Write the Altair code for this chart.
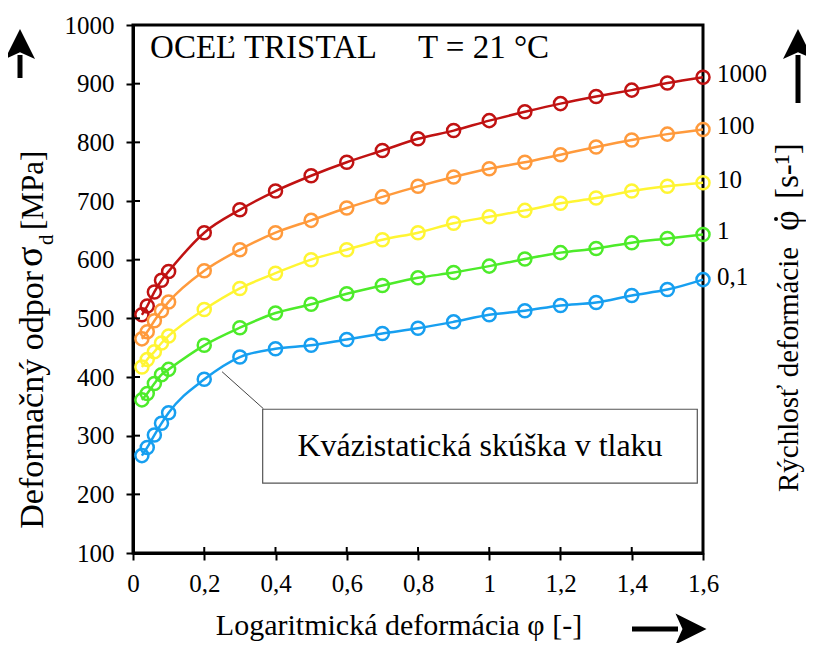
import altair as alt
import pandas as pd

# ---------------- data ----------------
phi = [0.025, 0.04, 0.06, 0.08, 0.1, 0.2, 0.3, 0.4, 0.5, 0.6,
       0.7, 0.8, 0.9, 1.0, 1.1, 1.2, 1.3, 1.4, 1.5, 1.6]
sigma_1000 = [506, 521, 545, 565, 580, 646, 685, 717, 743, 766,
              786, 806, 820, 837, 852, 866, 878, 889, 901, 911]
sigma_100 = [465, 477, 496, 513, 528, 581, 617, 646, 667, 688,
             707, 725, 741, 755, 766, 779, 792, 804, 814, 822]
sigma_10 = [417, 430, 443, 458, 470, 515, 551, 577, 600, 617,
            634, 646, 662, 673, 684, 696, 705, 717, 725, 731]
sigma_1 = [361, 372, 389, 404, 413, 454, 484, 509, 524, 542,
           556, 569, 578, 589, 601, 612, 619, 629, 636, 643]
sigma_01 = [266, 280, 301, 321, 339, 396, 434, 448, 454, 464,
            474, 483, 494, 506, 513, 522, 527, 539, 549, 566]

rates = ["1000", "100", "10", "1", "0,1"]
colors = ["#C01212", "#FF9A3C", "#FFF533", "#4DEB2A", "#179FF0"]

x_ticks = [0, 0.2, 0.4, 0.6, 0.8, 1.0, 1.2, 1.4, 1.6]
y_ticks = [100, 200, 300, 400, 500, 600, 700, 800, 900, 1000]

# annotation (callout box) in data units
box_x = [0.364, 1.584]
box_y = [219, 345]
leader_x = [0.25, 0.366]
leader_y = [409, 346]
box_text = "Kvázistatická skúška v tlaku"
head_text_1 = "OCEĽ TRISTAL"
head_text_2 = "T = 21 °C"

FONT = "Liberation Serif"
W, H = 570, 528

rows = []
for r, vals in zip(rates, [sigma_1000, sigma_100, sigma_10, sigma_1, sigma_01]):
    for p, s in zip(phi, vals):
        rows.append({"phi": p, "sigma": s, "rate": r})
df = pd.DataFrame(rows)
last = df[df["phi"] == phi[-1]].copy()

xs = alt.Scale(domain=[0, 1.6], nice=False, zero=False)
ys = alt.Scale(domain=[100, 1000], nice=False, zero=False)
color = alt.Color("rate:N", scale=alt.Scale(domain=rates, range=colors), legend=None)

x_axis = alt.Axis(values=x_ticks, title=None, grid=False,
                  labelExpr="replace(format(datum.value, '~g'), '.', ',')",
                  labelFont=FONT, labelFontSize=25, labelColor="black",
                  labelPadding=11, labelFlush=False,
                  tickColor="black", tickSize=7, tickWidth=2,
                  domainColor="black", domainWidth=3)
y_axis = alt.Axis(values=y_ticks, title=None, grid=False, format="d",
                  labelFont=FONT, labelFontSize=25, labelColor="black",
                  labelPadding=12, labelFlush=False,
                  tickColor="black", tickSize=7, tickWidth=2,
                  domainColor="black", domainWidth=3)

base = alt.Chart(df)
lines = base.mark_line(interpolate="monotone", strokeWidth=2.5).encode(
    x=alt.X("phi:Q", scale=xs, axis=x_axis),
    y=alt.Y("sigma:Q", scale=ys, axis=y_axis),
    color=color, detail="rate:N")
points = base.mark_point(shape="circle", filled=False, size=170,
                         strokeWidth=2.5, opacity=1).encode(
    x="phi:Q", y="sigma:Q", color=color)

rate_labels = alt.Chart(last).mark_text(
    align="left", baseline="middle", dx=14, dy=-3,
    font=FONT, fontSize=25, color="black").encode(
    x="phi:Q", y="sigma:Q", text="rate:N")

# inward halves of ticks
xt = pd.DataFrame({"phi": x_ticks[1:-1]})
x_in = alt.Chart(xt).mark_rule(color="black", strokeWidth=2).encode(
    x="phi:Q", y=alt.value(H - 6), y2=alt.value(H))
yt = pd.DataFrame({"sigma": y_ticks[1:-1]})
y_in = alt.Chart(yt).mark_rule(color="black", strokeWidth=2).encode(
    y="sigma:Q", x=alt.value(0), x2=alt.value(7))

# callout
bx = pd.DataFrame({"x1": [box_x[0]], "x2": [box_x[1]], "y1": [box_y[0]], "y2": [box_y[1]],
                   "tx": [(box_x[0] + box_x[1]) / 2], "ty": [(box_y[0] + box_y[1]) / 2],
                   "t": [box_text]})
box = alt.Chart(bx).mark_rect(fill="white", stroke="#555555", strokeWidth=1.2).encode(
    x="x1:Q", x2="x2:Q", y="y1:Q", y2="y2:Q")
box_lbl = alt.Chart(bx).mark_text(font=FONT, fontSize=32, color="black",
                                  baseline="middle", align="center").encode(
    x="tx:Q", y="ty:Q", text="t:N")
ld = pd.DataFrame({"x1": [leader_x[0]], "x2": [leader_x[1]],
                   "y1": [leader_y[0]], "y2": [leader_y[1]]})
leader = alt.Chart(ld).mark_rule(color="#444444", strokeWidth=1).encode(
    x="x1:Q", x2="x2:Q", y="y1:Q", y2="y2:Q")

hd = pd.DataFrame({"x": [0.048, 0.80], "y": [943, 943], "t": [head_text_1, head_text_2]})
head = alt.Chart(hd).mark_text(font=FONT, fontSize=33, color="black",
                               align="left", baseline="alphabetic").encode(
    x="x:Q", y="y:Q", text="t:N")

one = pd.DataFrame({"a": [0]})


def txt(s, x, y, size, angle=0, align="left", baseline="alphabetic"):
    kw = dict(font=FONT, fontSize=size, color="black", align=align, baseline=baseline)
    if angle:
        kw["angle"] = angle
    return alt.Chart(one).mark_text(text=s, **kw).encode(x=alt.value(x), y=alt.value(y))


# axis titles
x_title = txt("Logaritmická deformácia φ [-]", 266, 610, 30, align="center")
yl1 = txt("Deformačný odpor", -90, 246, 34, angle=270, align="right")
yl2 = txt("σ", -91, 242, 38, angle=270, align="left")
yl3 = txt("d", -80, 220, 21, angle=270, align="left")
yl4 = txt("[MPa]", -90, 205, 31, angle=270, align="left")
yr1 = txt("Rýchlosť deformácie", 665, 467, 29, angle=270, align="left")
yr2 = txt("φ", 665, 206, 36, angle=270, align="left")
yr4 = txt("[s-¹]", 665, 174, 33, angle=270, align="left")
dot = alt.Chart(one).mark_point(shape="circle", filled=True, color="black",
                                size=16, opacity=1).encode(
    x=alt.value(643), y=alt.value(194))


def rule(x1, y1, x2, y2, w):
    return alt.Chart(one).mark_rule(color="black", strokeWidth=w).encode(
        x=alt.value(x1), y=alt.value(y1), x2=alt.value(x2), y2=alt.value(y2))


def head_sym(path, x, y, size):
    return alt.Chart(one).mark_point(shape=path, filled=True, color="black",
                                     size=size, opacity=1, strokeWidth=0).encode(
        x=alt.value(x), y=alt.value(y))


UP = "M-1,1L0,-1L1,1L0,0.55Z"
RIGHT = "M-1,-1L1,0L-1,1L-0.55,0Z"
arrows = [
    rule(-113, 30, -113, 53, 5), head_sym(UP, -113, 19, 900),
    rule(665, 30, 665, 78, 5), head_sym(UP, 665, 19, 900),
    rule(499, 604, 545, 604, 5), head_sym(RIGHT, 558, 604, 960),
]

chart = alt.layer(
    lines, points, rate_labels, x_in, y_in, leader, box, box_lbl, head,
    x_title, yl1, yl2, yl3, yl4, yr1, yr2, yr4, dot, *arrows
).properties(
    width=W, height=H,
    autosize=alt.AutoSizeParams(type="none"),
    padding={"left": 125, "top": 17, "right": 103, "bottom": 90},
    background="white",
).configure_view(stroke="black", strokeWidth=3)

chart.save("out.html", embed_options={"renderer": "svg", "actions": False})
